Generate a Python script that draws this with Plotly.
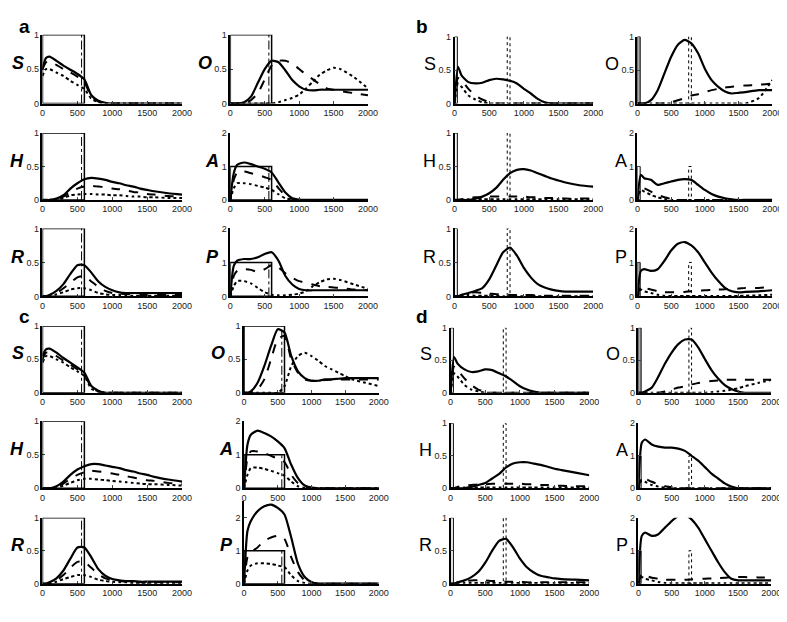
import plotly.graph_objects as go

W, H = 787, 622
T = [0, 50, 100, 200, 300, 400, 500, 600, 700, 800, 900, 1000, 1100, 1200, 1300, 1400, 1500, 1600, 1800, 2000]
XTICKS = [0, 500, 1000, 1500, 2000]

# ---- panel a (solid, dashed, dotted) ----
a_S = ([0.5,0.66,0.68,0.62,0.55,0.49,0.43,0.35,0.12,0.04,0.01,0,0,0,0,0,0,0,0,0],
       [0.5,0.6,0.62,0.56,0.5,0.45,0.39,0.31,0.1,0.03,0.01,0,0,0,0,0,0,0,0,0],
       [0.4,0.5,0.5,0.45,0.4,0.33,0.27,0.21,0.07,0.02,0,0,0,0,0,0,0,0,0,0])
a_O = ([0,0,0,0.02,0.1,0.3,0.5,0.62,0.6,0.48,0.34,0.25,0.2,0.19,0.2,0.2,0.2,0.2,0.2,0.2],
       [0,0,0,0,0.05,0.15,0.35,0.55,0.62,0.62,0.58,0.5,0.42,0.35,0.28,0.22,0.2,0.18,0.15,0.12],
       [0,0,0,0,0,0,0,0,0.02,0.05,0.08,0.13,0.22,0.32,0.42,0.48,0.52,0.5,0.38,0.22])
a_H = ([0,0,0,0.02,0.07,0.17,0.25,0.31,0.33,0.32,0.3,0.27,0.25,0.22,0.2,0.17,0.15,0.13,0.1,0.08],
       [0,0,0,0.01,0.05,0.12,0.17,0.2,0.21,0.2,0.19,0.17,0.16,0.14,0.12,0.11,0.09,0.08,0.06,0.05],
       [0,0,0,0,0.03,0.07,0.08,0.09,0.09,0.08,0.08,0.07,0.07,0.06,0.05,0.05,0.04,0.04,0.03,0.03])
a_A = ([0,0.8,1.05,1.12,1.07,1.0,0.93,0.82,0.52,0.22,0.05,0.01,0,0,0,0,0,0,0,0],
       [0,0.6,0.82,0.85,0.8,0.75,0.68,0.6,0.35,0.13,0.03,0,0,0,0,0,0,0,0,0],
       [0,0.35,0.5,0.5,0.47,0.42,0.37,0.3,0.17,0.05,0.01,0,0,0,0,0,0,0,0,0])
a_R = ([0,0,0.02,0.08,0.18,0.33,0.46,0.46,0.35,0.22,0.14,0.09,0.06,0.05,0.05,0.05,0.05,0.05,0.05,0.05],
       [0,0,0,0.05,0.12,0.2,0.28,0.3,0.22,0.14,0.08,0.05,0.04,0.03,0.03,0.02,0.02,0.02,0.02,0.02],
       [0,0,0,0.03,0.06,0.1,0.12,0.12,0.09,0.05,0.03,0.02,0.02,0.01,0.01,0.01,0.01,0.01,0.01,0.01])
a_P = ([0,0.9,1.05,1.1,1.1,1.15,1.25,1.3,1.05,0.6,0.35,0.22,0.18,0.18,0.18,0.18,0.18,0.18,0.18,0.18],
       [0,0.6,0.75,0.8,0.78,0.72,0.8,0.92,0.85,0.68,0.55,0.45,0.4,0.35,0.3,0.28,0.26,0.25,0.2,0.18],
       [0,0.3,0.45,0.45,0.38,0.25,0.12,0.05,0.03,0.03,0.05,0.08,0.15,0.3,0.42,0.5,0.52,0.48,0.35,0.22])

# ---- panel b ----
b_S = ([0,0.55,0.42,0.32,0.3,0.31,0.35,0.37,0.36,0.34,0.3,0.22,0.15,0.07,0.02,0,0,0,0,0],
       [0,0.38,0.35,0.22,0.12,0.06,0.02,0,0,0,0,0,0,0,0,0,0,0,0,0],
       [0,0.3,0.25,0.12,0.06,0.02,0,0,0,0,0,0,0,0,0,0,0,0,0,0])
b_O = ([0,0,0,0.05,0.2,0.45,0.7,0.88,0.95,0.9,0.75,0.52,0.35,0.25,0.18,0.15,0.16,0.17,0.2,0.2],
       [0,0,0,0,0,0,0.02,0.05,0.08,0.12,0.14,0.17,0.2,0.22,0.24,0.25,0.26,0.27,0.28,0.3],
       [0,0,0,0,0,0,0,0,0,0,0,0,0,0,0,0,0,0,0.08,0.35])
b_H = ([0,0,0,0,0.02,0.05,0.1,0.18,0.3,0.4,0.45,0.46,0.44,0.4,0.36,0.32,0.29,0.26,0.22,0.2],
       [0,0,0.01,0.03,0.04,0.04,0.05,0.05,0.05,0.05,0.05,0.05,0.04,0.04,0.03,0.03,0.03,0.02,0.02,0.02],
       [0,0,0,0.01,0.01,0.01,0.01,0.01,0.01,0.01,0.01,0.01,0.01,0.01,0.01,0.01,0.01,0.01,0.01,0.01])
b_A = ([0,0.75,0.65,0.6,0.45,0.5,0.55,0.6,0.62,0.6,0.45,0.3,0.18,0.1,0.05,0.02,0,0,0,0],
       [0,0.4,0.35,0.25,0.15,0.08,0.03,0,0,0,0,0,0,0,0,0,0,0,0,0],
       [0,0.3,0.25,0.15,0.08,0.03,0,0,0,0,0,0,0,0,0,0,0,0,0,0])
b_R = ([0,0,0.02,0.05,0.08,0.12,0.25,0.45,0.65,0.72,0.6,0.42,0.28,0.18,0.13,0.1,0.08,0.07,0.07,0.07],
       [0,0,0.02,0.05,0.06,0.05,0.04,0.03,0.03,0.02,0.02,0.02,0.02,0.01,0.01,0.01,0.01,0.01,0.01,0.01],
       [0,0,0.01,0.02,0.01,0.01,0.01,0.01,0,0,0,0,0,0,0,0,0,0,0,0])
b_P = ([0,0.75,0.8,0.75,0.8,1.05,1.35,1.55,1.6,1.5,1.3,1.0,0.7,0.45,0.25,0.15,0.12,0.13,0.15,0.18],
       [0,0.3,0.25,0.2,0.15,0.12,0.12,0.12,0.13,0.15,0.16,0.18,0.19,0.2,0.21,0.22,0.23,0.25,0.25,0.28],
       [0,0.2,0.15,0.1,0.05,0.02,0.01,0.01,0.01,0.01,0.01,0.01,0.01,0.01,0.01,0.01,0.01,0.02,0.03,0.05])

# ---- panel c ----
c_S = ([0.55,0.65,0.66,0.6,0.52,0.45,0.38,0.3,0.1,0.03,0,0,0,0,0,0,0,0,0,0],
       [0.5,0.6,0.6,0.55,0.48,0.42,0.35,0.28,0.08,0.02,0,0,0,0,0,0,0,0,0,0],
       [0.45,0.55,0.55,0.5,0.45,0.38,0.32,0.25,0.06,0.02,0,0,0,0,0,0,0,0,0,0])
c_O = ([0,0,0.02,0.15,0.4,0.7,0.95,0.9,0.55,0.32,0.22,0.18,0.18,0.2,0.2,0.21,0.22,0.22,0.22,0.22],
       [0,0,0,0.05,0.2,0.5,0.8,0.85,0.5,0.3,0.2,0.18,0.18,0.19,0.2,0.2,0.2,0.2,0.2,0.2],
       [0,0,0,0,0,0,0,0.1,0.4,0.55,0.6,0.55,0.48,0.4,0.35,0.3,0.25,0.2,0.15,0.1])
c_H = ([0,0,0,0.03,0.1,0.2,0.28,0.33,0.36,0.36,0.34,0.32,0.3,0.27,0.25,0.22,0.2,0.17,0.13,0.1],
       [0,0,0,0.02,0.07,0.14,0.2,0.24,0.26,0.25,0.24,0.22,0.2,0.18,0.16,0.14,0.12,0.11,0.08,0.06],
       [0,0,0,0,0.04,0.08,0.12,0.14,0.14,0.13,0.12,0.11,0.1,0.09,0.08,0.07,0.06,0.06,0.05,0.04])
c_A = ([0,1.3,1.6,1.72,1.65,1.55,1.4,1.2,0.7,0.3,0.08,0.02,0,0,0,0,0,0,0,0],
       [0,0.9,1.1,1.1,1.05,0.97,0.88,0.78,0.4,0.15,0.03,0,0,0,0,0,0,0,0,0],
       [0,0.4,0.6,0.62,0.58,0.52,0.45,0.38,0.2,0.06,0.01,0,0,0,0,0,0,0,0,0])
c_R = ([0,0,0.02,0.08,0.2,0.38,0.55,0.55,0.4,0.22,0.12,0.07,0.05,0.04,0.04,0.03,0.03,0.03,0.03,0.03],
       [0,0,0,0.05,0.13,0.24,0.33,0.33,0.24,0.14,0.08,0.05,0.04,0.03,0.03,0.02,0.02,0.02,0.02,0.02],
       [0,0,0,0.03,0.07,0.1,0.13,0.13,0.1,0.06,0.04,0.03,0.02,0.02,0.01,0.01,0.01,0.01,0.01,0.01])
c_P = ([0,1.6,1.9,2.2,2.35,2.4,2.3,2.1,1.4,0.6,0.2,0.05,0,0,0,0,0,0,0,0],
       [0,0.8,0.95,1.1,1.3,1.4,1.45,1.35,0.8,0.35,0.1,0.02,0,0,0,0,0,0,0,0],
       [0,0.4,0.55,0.62,0.62,0.6,0.55,0.5,0.25,0.08,0.02,0,0,0,0,0,0,0,0,0])

# ---- panel d ----
d_S = ([0,0.55,0.45,0.36,0.32,0.33,0.36,0.35,0.3,0.25,0.18,0.1,0.05,0.02,0,0,0,0,0,0],
       [0,0.4,0.35,0.22,0.12,0.05,0.02,0,0,0,0,0,0,0,0,0,0,0,0,0],
       [0,0.3,0.25,0.12,0.05,0.02,0,0,0,0,0,0,0,0,0,0,0,0,0,0])
d_O = ([0,0,0.02,0.08,0.25,0.45,0.62,0.75,0.82,0.82,0.7,0.52,0.35,0.22,0.12,0.06,0.02,0,0,0],
       [0,0,0,0,0,0.02,0.05,0.08,0.1,0.13,0.15,0.17,0.18,0.19,0.2,0.2,0.2,0.2,0.2,0.2],
       [0,0,0,0,0,0,0,0,0,0,0,0,0.01,0.02,0.03,0.05,0.07,0.1,0.15,0.2])
d_H = ([0,0,0,0,0.02,0.05,0.08,0.15,0.22,0.32,0.38,0.4,0.4,0.38,0.36,0.33,0.3,0.28,0.24,0.2],
       [0,0,0.02,0.04,0.05,0.06,0.06,0.07,0.07,0.07,0.07,0.07,0.06,0.06,0.05,0.05,0.04,0.04,0.03,0.03],
       [0,0,0,0.01,0.01,0.01,0.01,0.01,0.01,0.01,0.01,0.01,0.01,0.01,0.01,0.01,0.01,0.01,0.01,0.01])
d_A = ([0,1.4,1.5,1.35,1.28,1.25,1.25,1.22,1.15,1.0,0.85,0.65,0.45,0.3,0.15,0.05,0,0,0,0],
       [0,0.35,0.3,0.2,0.12,0.06,0.03,0,0,0,0,0,0,0,0,0,0,0,0,0],
       [0,0.25,0.2,0.1,0.05,0.02,0,0,0,0,0,0,0,0,0,0,0,0,0,0])
d_R = ([0,0,0.02,0.05,0.1,0.18,0.32,0.5,0.65,0.68,0.55,0.38,0.25,0.17,0.12,0.1,0.08,0.07,0.06,0.05],
       [0,0,0.02,0.04,0.05,0.05,0.05,0.04,0.04,0.03,0.03,0.03,0.02,0.02,0.02,0.02,0.02,0.02,0.02,0.02],
       [0,0,0,0.01,0.01,0.01,0.01,0.01,0.01,0.01,0.01,0.01,0.01,0.01,0.01,0.01,0.01,0.01,0.01,0.01])
d_P = ([0,1.45,1.55,1.45,1.5,1.7,1.9,2.05,2.1,1.95,1.7,1.35,1.0,0.65,0.35,0.15,0.1,0.1,0.1,0.1],
       [0,0.3,0.25,0.18,0.15,0.12,0.12,0.12,0.12,0.13,0.14,0.15,0.16,0.17,0.18,0.2,0.2,0.2,0.19,0.18],
       [0,0.2,0.15,0.1,0.05,0.02,0.01,0.01,0.01,0.01,0.01,0.01,0.01,0.01,0.01,0.01,0.01,0.01,0.01,0.01])

# pulse / marker descriptions: long pulse (a, c): box 0-600 & dash-dot at 560
LONG_PULSE = (0, 600, 560)
# short pulse (b, d): box 0-40 & dotted pair at 760-800
SHORT_PULSE = (0, 40, 760, 800)

# ----- layout (pixel boxes of the plot areas) -----
panels = {
    'a': dict(cols=[(32, 174), (223, 363)], rows=[(22, 92), (122, 190), (219, 288)],
              data=[[a_S, a_O], [a_H, a_A], [a_R, a_P]], kind='long', label=(14, 14)),
    'b': dict(cols=[(451, 592), (637, 774)], rows=[(24, 92), (122, 190), (219, 288)],
              data=[[b_S, b_O], [b_H, b_A], [b_R, b_P]], kind='short', label=(418, 14)),
    'c': dict(cols=[(32, 174), (237, 374)], rows=[(318, 386), (415, 483), (513, 580)],
              data=[[c_S, c_O], [c_H, c_A], [c_R, c_P]], kind='long', label=(14, 308)),
    'd': dict(cols=[(447, 588), (638, 773)], rows=[(320, 386), (417, 483), (513, 580)],
              data=[[d_S, d_O], [d_H, d_A], [d_R, d_P]], kind='short', label=(418, 308)),
}
names = [['S', 'O'], ['H', 'A'], ['R', 'P']]
yranges = {'S': 1, 'O': 1, 'H': 1, 'R': 1, 'A': 2, 'P': 2}

fig = go.Figure()
styles = [dict(dash='solid', width=2.2), dict(dash='dash', width=2.0), dict(dash='dot', width=2.0)]
FONT = 'Liberation Sans, Arial, sans-serif'
k = 0
shapes, annotations = [], []
for pkey, p in panels.items():
    annotations.append(dict(text='<b>%s</b>' % pkey, x=p['label'][0] / W, y=1 - p['label'][1] / H,
                            xref='paper', yref='paper', showarrow=False, xanchor='center', yanchor='middle',
                            font=dict(size=19, family=FONT, color='black')))
    for r, (y0p, y1p) in enumerate(p['rows']):
        for c, (x0p, x1p) in enumerate(p['cols']):
            k += 1
            nm = names[r][c]
            ymax = yranges[nm]
            if pkey == 'c' and nm == 'P':
                ymax = 2.5
            ytop = y0p
            if pkey == 'c' and nm == 'P':
                ytop = y1p - (y1p - y0p) * 1.25
            xa = 'x%d' % k if k > 1 else 'x'
            ya = 'y%d' % k if k > 1 else 'y'
            series = p['data'][r][c]
            for s, st in zip(series, styles):
                fig.add_trace(go.Scatter(x=T, y=s, mode='lines', xaxis=xa, yaxis=ya,
                                         line=dict(color='black', width=st['width'], dash=st['dash'],
                                                   shape='spline', smoothing=0.6),
                                         showlegend=False, hoverinfo='skip'))
            if ymax == 1:
                tv, tt = [0, 0.5, 1], ['0', '0.5', '1']
            else:
                tv, tt = [0, 1, 2], ['0', '1', '2']
            fig.layout['xaxis%d' % k if k > 1 else 'xaxis'] = dict(
                domain=[x0p / W, x1p / W], anchor=ya, range=[0, 2000], tickvals=XTICKS,
                ticks='inside', ticklen=3, showline=True, linecolor='black', linewidth=1.5,
                showgrid=False, zeroline=False, tickfont=dict(size=9, family=FONT, color='#222'))
            fig.layout['yaxis%d' % k if k > 1 else 'yaxis'] = dict(
                domain=[1 - y1p / H, 1 - ytop / H], anchor=xa, range=[0, ymax], tickvals=tv, ticktext=tt,
                ticks='inside', ticklen=3, showline=True, linecolor='black', linewidth=1.5,
                showgrid=False, zeroline=False, tickfont=dict(size=9, family=FONT, color='#222'))
            # variable label, placed left of the middle tick label so that it reads as a subscript
            mid = tv[1]
            ymid_px = y1p - (y1p - ytop) * mid / ymax
            gap = 17 if ymax == 1 else 9
            annotations.append(dict(text='<b><i>%s</i></b>' % nm if p['kind'] == 'long' else nm,
                                    x=(x0p - gap) / W, y=1 - (ymid_px - 6) / H,
                                    xref='paper', yref='paper', showarrow=False, xanchor='right',
                                    yanchor='middle', font=dict(size=18, family=FONT, color='black')))
            xr, yr = xa, ya
            if p['kind'] == 'long':
                x0, x1, xd = LONG_PULSE
                shapes.append(dict(type='rect', xref=xr, yref=yr, x0=x0, x1=x1, y0=0, y1=1,
                                   line=dict(color='black', width=1.5)))
                shapes.append(dict(type='line', xref=xr, yref=yr, x0=xd, x1=xd, y0=0, y1=1,
                                   line=dict(color='black', width=1, dash='dashdot')))
            else:
                x0, x1, xd0, xd1 = SHORT_PULSE
                fill = '#aaaaaa' if nm in ('O', 'P') else 'white'
                shapes.append(dict(type='rect', xref=xr, yref=yr, x0=x0, x1=x1, y0=0, y1=1,
                                   line=dict(color='black', width=1), fillcolor=fill, layer='below'))
                shapes.append(dict(type='rect', xref=xr, yref=yr, x0=xd0, x1=xd1, y0=0, y1=1,
                                   line=dict(color='black', width=1, dash='dot')))

fig.update_layout(width=W, height=H, margin=dict(l=0, r=0, t=0, b=0),
                  paper_bgcolor='white', plot_bgcolor='white', shapes=shapes, annotations=annotations,
                  showlegend=False)
fig.write_html('out.html')
